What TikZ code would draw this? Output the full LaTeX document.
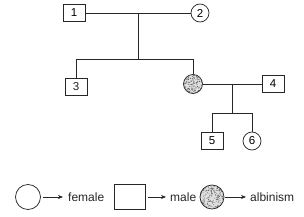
\documentclass[tikz,border=0pt]{standalone}
\usepackage{fontspec}
\setmainfont{Liberation Sans}
\usetikzlibrary{calc,arrows.meta}
\definecolor{ink}{HTML}{262626}
\tikzset{
  line/.style={draw=ink, line width=0.75pt},
  malebox/.style={draw=ink, line width=0.75pt, rectangle, minimum width=22pt, minimum height=17pt, inner sep=0pt, font=\fontsize{11.5}{12}\selectfont},
  femcirc/.style={draw=ink, line width=0.75pt, circle, minimum size=18pt, inner sep=0pt, font=\fontsize{11.5}{12}\selectfont},
  lbl/.style={anchor=west, inner sep=0pt, text=ink, font=\fontsize{12}{14}\selectfont},
  arr/.style={draw=ink, line width=0.75pt, -{Stealth[length=5pt,width=4pt]}},
}
\newcommand{\stipple}[4]{% center, radius, seed, count
  \begin{scope}
    \clip (#1) circle (#2);
    \fill[gray!25] (#1) circle (#2);
    \pgfmathsetseed{#3}
    \foreach \k in {1,...,#4} {
      \fill[gray!60!black] ($(#1)+(rand*#2,rand*#2)$) circle (0.4pt);
    }
  \end{scope}
  \draw[ink, line width=0.75pt] (#1) circle (#2);
}
\begin{document}
\begin{tikzpicture}[x=1pt,y=-1pt]
\useasboundingbox (0,0) rectangle (304,216);
% generation I
\node[malebox] (p1) at (74,13) {1};
\node[femcirc] (p2) at (200,13) {2};
\draw[line] (p1) -- (p2);
\coordinate (m12) at (138,13);
\coordinate (s1) at (138,59);
\coordinate (s1l) at (76,59);
\coordinate (s1r) at (193,59);
\draw[line] (m12) -- (s1);
% generation II
\node[malebox] (p3) at (76,87) {};
\node at (p3) [font=\fontsize{11.5}{12}\selectfont, text=ink] {3};
\coordinate (c5) at (193,84);
\node[circle, minimum size=19pt, inner sep=0pt] (p5) at (c5) {};
\stipple{c5}{9.5pt}{7}{170}
\node[malebox] (p4) at (273,84) {4};
\draw[line] (s1l) -- (s1r);
\draw[line] (s1l) -- (p3.north);
\draw[line] (s1r) -- (p5.north);
\draw[line] (p5) -- (p4);
\coordinate (m54) at (232,84);
\coordinate (s2) at (232,113);
\coordinate (s2l) at (212,113);
\coordinate (s2r) at (252,113);
\draw[line] (m54) -- (s2);
\draw[line] (s2l) -- (s2r);
% generation III
\node[malebox] (p6) at (212,141) {5};
\node[femcirc] (p7) at (252,141) {6};
\draw[line] (s2l) -- (p6.north);
\draw[line] (s2r) -- (p7.north);
% legend
\node[femcirc, minimum size=25pt] (lf) at (28,197) {};
\coordinate (lfa) at (63,197);
\draw[arr] (lf.east) ++(2,0) -- (lfa);
\node[lbl] (tf) at (68,197) {female};
\node[malebox, minimum width=31pt, minimum height=25pt] (lm) at (130,197) {};
\coordinate (lma) at (166,197);
\draw[arr] (lm.east) ++(2,0) -- (lma);
\node[lbl] (tm) at (170,197) {male};
\coordinate (ca) at (212,197);
\node[circle, minimum size=24pt, inner sep=0pt] (la) at (ca) {};
\stipple{ca}{12pt}{3}{220}
\coordinate (laa) at (246,197);
\draw[arr] (la.east) ++(1,0) -- (laa);
\node[lbl] (ta) at (250,197) {albinism};
\end{tikzpicture}
\end{document}
